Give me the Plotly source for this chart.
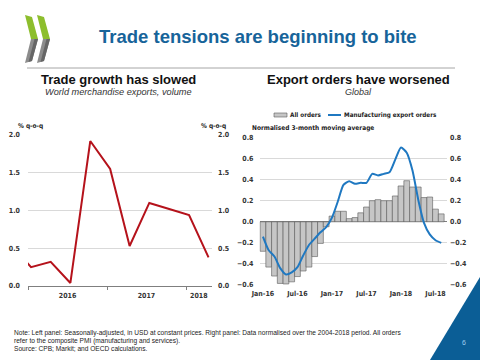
import plotly.graph_objects as go

W, H = 480, 360

# ---------------- data ----------------
# Left panel: world merchandise exports, volume, % q-o-q (quarterly)
q_dates = ["2015-10-15", "2016-01-15", "2016-04-15", "2016-07-15", "2016-10-15",
           "2017-01-15", "2017-04-15", "2017-07-15", "2017-10-15", "2018-01-15", "2018-04-15"]
trade_growth = [0.55, 0.25, 0.32, 0.04, 1.92, 1.55, 0.53, 1.10, 1.02, 0.94, 0.38]
year_ticks = ["2016-07-02", "2017-07-02", "2018-03-01"]
year_labels = ["2016", "2017", "2018"]
year_bounds = ["2016-01-01", "2017-01-01", "2018-01-01"]

# Right panel: export orders (normalised 3-month moving average), monthly
months = ["Jan-16", "Feb-16", "Mar-16", "Apr-16", "May-16", "Jun-16", "Jul-16", "Aug-16",
          "Sep-16", "Oct-16", "Nov-16", "Dec-16", "Jan-17", "Feb-17", "Mar-17", "Apr-17",
          "May-17", "Jun-17", "Jul-17", "Aug-17", "Sep-17", "Oct-17", "Nov-17", "Dec-17",
          "Jan-18", "Feb-18", "Mar-18", "Apr-18", "May-18", "Jun-18", "Jul-18", "Aug-18"]
all_orders = [-0.28, -0.43, -0.515, -0.585, -0.59, -0.57, -0.52, -0.467,
              -0.43, -0.33, -0.205, -0.047, 0.054, 0.10, 0.10, 0.03,
              0.04, 0.085, 0.14, 0.20, 0.21, 0.20, 0.20, 0.245,
              0.34, 0.39, 0.33, 0.33, 0.23, 0.235, 0.12, 0.075]
manuf_orders = [-0.14, -0.27, -0.33, -0.44, -0.50, -0.48, -0.43, -0.32,
                -0.22, -0.16, -0.10, -0.05, 0.04, 0.19, 0.35, 0.385,
                0.36, 0.37, 0.37, 0.455, 0.44, 0.455, 0.47, 0.59,
                0.705, 0.655, 0.486, 0.21, -0.01, -0.12, -0.175, -0.20]
month_ticks = ["Jan-16", "Jul-16", "Jan-17", "Jul-17", "Jan-18", "Jul-18"]
series_names = ["All orders", "Manufacturing export orders"]

# ---------------- helpers ----------------
def px(x):
    return x / W

def py(y):
    return 1 - y / H

def path(points):
    s = "M " + " L ".join(f"{px(a):.5f},{py(b):.5f}" for a, b in points) + " Z"
    return s

NARROW = "Liberation Sans Narrow, Arial Narrow, DejaVu Sans Condensed, sans-serif"
SANS = "Liberation Sans, Arial, sans-serif"
tickfont = dict(family=NARROW, size=7, color="#333333", weight="bold")

RED = "#B5121B"
BLUE = "#1F78C1"
GRID = "#d9d9d9"

fig = go.Figure()

# Left panel line
fig.add_trace(go.Scatter(x=q_dates, y=trade_growth, mode="lines",
                         line=dict(color=RED, width=2), xaxis="x", yaxis="y",
                         showlegend=False, hoverinfo="skip"))
fig.add_trace(go.Scatter(x=q_dates, y=trade_growth, mode="lines", opacity=0,
                         line=dict(color=RED, width=0), xaxis="x", yaxis="y2",
                         showlegend=False, hoverinfo="skip"))

# Right panel bars + line
fig.add_trace(go.Bar(x=months, y=all_orders, name=series_names[0],
                     marker=dict(color="#c6c6c6", line=dict(color="#5a5a5a", width=0.6)),
                     xaxis="x2", yaxis="y3", showlegend=False, hoverinfo="skip"))
fig.add_trace(go.Scatter(x=months, y=manuf_orders, name=series_names[1], mode="lines",
                         line=dict(color=BLUE, width=2, shape="spline", smoothing=0.6),
                         xaxis="x2", yaxis="y3", showlegend=False, hoverinfo="skip"))
fig.add_trace(go.Scatter(x=months, y=manuf_orders, mode="lines", opacity=0,
                         line=dict(width=0), xaxis="x2", yaxis="y4",
                         showlegend=False, hoverinfo="skip"))

L_dom_x = [px(28), px(212)]
L_dom_y = [py(286), py(135)]
R_dom_x = [px(259.5), px(447)]
R_dom_y = [py(285), py(137.5)]

fig.update_layout(
    width=W, height=H, margin=dict(l=0, r=0, t=0, b=0, autoexpand=False),
    paper_bgcolor="white", plot_bgcolor="white",
    bargap=0,
    xaxis=dict(domain=L_dom_x, anchor="y", type="date", automargin=False,
               range=["2016-01-01", "2018-05-01"],
               tickmode="array", tickvals=year_ticks, ticktext=year_labels,
               ticks="", showgrid=False, showline=True, linecolor="#7f7f7f", linewidth=1,
               tickfont=tickfont, ticklabelstandoff=3,
               minor=dict(tickmode="array", tickvals=year_bounds, ticks="outside",
                          ticklen=3, tickcolor="#7f7f7f", showgrid=False)),
    yaxis=dict(domain=L_dom_y, anchor="x", range=[0, 2], tickmode="array", automargin=False,
               tickvals=[0, 0.5, 1.0, 1.5, 2.0], tickformat=".1f",
               showgrid=True, gridcolor=GRID, gridwidth=1, zeroline=False,
               tickfont=tickfont, ticklabelstandoff=7),
    yaxis2=dict(overlaying="y", side="right", anchor="x", range=[0, 2], tickmode="array",
                automargin=False,
                tickvals=[0, 0.5, 1.0, 1.5, 2.0], tickformat=".1f", showgrid=False,
                zeroline=False, tickfont=tickfont, ticklabelstandoff=5),
    xaxis2=dict(domain=R_dom_x, anchor="y3", type="category", range=[-0.6, 32.0],
                automargin=False,
                tickmode="array", tickvals=month_ticks, ticktext=month_ticks,
                ticks="", showgrid=False, showline=False, tickfont=tickfont,
                ticklabelstandoff=3),
    yaxis3=dict(domain=R_dom_y, anchor="x2", range=[-0.6, 0.8], tickmode="array",
                automargin=False,
                tickvals=[-0.6, -0.4, -0.2, 0.0, 0.2, 0.4, 0.6, 0.8], tickformat=".1f",
                showgrid=True, gridcolor=GRID, gridwidth=1,
                zeroline=True, zerolinecolor="#7f7f7f", zerolinewidth=1,
                tickfont=tickfont, ticklabelstandoff=5),
    yaxis4=dict(overlaying="y3", side="right", anchor="x2", range=[-0.6, 0.8],
                automargin=False,
                tickmode="array", tickvals=[-0.6, -0.4, -0.2, 0.0, 0.2, 0.4, 0.6, 0.8],
                tickformat=".1f", showgrid=False, zeroline=False,
                tickfont=tickfont, ticklabelstandoff=2),
)

shapes = []
# header rule
shapes.append(dict(type="line", xref="paper", yref="paper", x0=px(27), x1=px(455),
                   y0=py(68), y1=py(68), line=dict(color="#a6a6a6", width=1)))
# OECD-like logo chevrons
GREEN = "#8DBE2D"
for dx in (0, 12):
    shapes.append(dict(type="path", xref="paper", yref="paper",
                       path=path([(25 + dx, 15), (32 + dx, 17), (38 + dx, 39), (31 + dx, 39)]),
                       fillcolor=GREEN, line=dict(width=0)))
    shapes.append(dict(type="path", xref="paper", yref="paper",
                       path=path([(31 + dx, 39), (38 + dx, 39), (32 + dx, 61), (25 + dx, 63)]),
                       fillcolor="#8c8c8c", line=dict(width=0)))
    shapes.append(dict(type="path", xref="paper", yref="paper",
                       path=path([(34.5 + dx, 39), (38 + dx, 39), (32 + dx, 61), (28.5 + dx, 62)]),
                       fillcolor="#666666", line=dict(width=0)))
# corner triangle
shapes.append(dict(type="path", xref="paper", yref="paper",
                   path=path([(430, 360), (480, 277), (480, 360)]),
                   fillcolor="#0B5E96", line=dict(width=0)))
# manual legend swatches
shapes.append(dict(type="rect", xref="paper", yref="paper", x0=px(274), x1=px(287),
                   y0=py(117), y1=py(113), fillcolor="#c6c6c6",
                   line=dict(color="#5a5a5a", width=0.6)))
shapes.append(dict(type="line", xref="paper", yref="paper", x0=px(328), x1=px(341),
                   y0=py(115), y1=py(115), line=dict(color=BLUE, width=2)))

ann = []
def text(x, y, s, size, color="#000000", family=SANS, weight="normal", style="normal",
         xanchor="center"):
    ann.append(dict(x=px(x), y=py(y), xref="paper", yref="paper", text=s, showarrow=False,
                    xanchor=xanchor, yanchor="middle",
                    font=dict(size=size, color=color, family=family, weight=weight, style=style)))

text(258, 37, "Trade tensions are beginning to bite", 18.5, "#17649A", weight="bold")
text(118, 79, "Trade growth has slowed", 13, "#111111", weight="bold")
text(118, 91.5, "World merchandise exports, volume", 9.2, "#333333", style="italic")
text(358.5, 79, "Export orders have worsened", 13, "#111111", weight="bold")
text(358, 92, "Global", 9, "#333333", style="italic")

text(16, 126.5, "% q-o-q", 6.5, "#222222", family=NARROW, weight="bold", xanchor="left")
text(199, 126.5, "% q-o-q", 6.5, "#222222", family=NARROW, weight="bold", xanchor="left")
text(288, 115, series_names[0], 6.3, "#222222", family=NARROW, weight="bold", xanchor="left")
text(342, 115, series_names[1], 6.3, "#222222", family=NARROW, weight="bold", xanchor="left")
text(250, 127.5, "Normalised 3-month moving average", 6.5, "#222222", family=NARROW,
     weight="bold", xanchor="left")

text(12, 333, "Note: Left panel: Seasonally-adjusted, in USD at constant prices. Right panel: "
     "Data normalised over the 2004-2018 period. All orders", 6.6, "#222222", xanchor="left")
text(12, 340.5, "refer to the composite PMI (manufacturing and services).", 6.6, "#222222",
     xanchor="left")
text(12, 348, "Source: CPB; Markit; and OECD calculations.", 6.6, "#222222", xanchor="left")
text(464, 342, "6", 7, "#9fd0f0")

fig.update_layout(shapes=shapes, annotations=ann)
fig.write_html("out.html", post_script="document.body.style.margin='0';",
               config={"displayModeBar": False, "staticPlot": True})
